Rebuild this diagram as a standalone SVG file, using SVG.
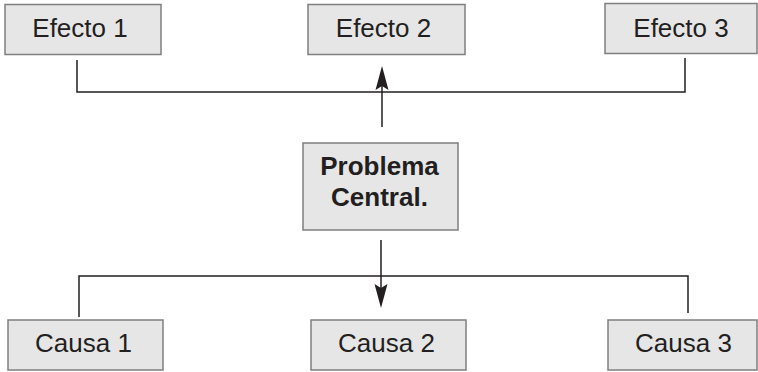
<svg xmlns="http://www.w3.org/2000/svg" width="758" height="372" viewBox="0 0 758 372">
<style>
.box{fill:#e6e6e7;stroke:#7f7f7f;stroke-width:1.5}
.t{font-family:"Liberation Sans",Arial,sans-serif;font-size:26px;fill:#231f20;text-anchor:middle}
.b{font-weight:bold}
.ln{fill:none;stroke:#231f20;stroke-width:1.5}
.ah{fill:#231f20}
</style>
<rect width="758" height="372" fill="#fff"/>
<g id="connectors">
<polyline class="ln" points="77,60 77,92 685,92 685,58"/>
<line class="ln" x1="382" y1="127" x2="382" y2="80"/>
<path class="ah" d="M382,66 L388.5,90 L382,86 L375.5,90 Z"/>
<polyline class="ln" points="79,317 79,276 688,276 688,313"/>
<line class="ln" x1="381" y1="240" x2="381" y2="294"/>
<path class="ah" d="M381,308 L387.5,284 L381,288 L374.5,284 Z"/>
</g>
<g id="efecto1"><rect class="box" x="5" y="4.5" width="156" height="50"/><text class="t" x="80" y="37">Efecto 1</text></g>
<g id="efecto2"><rect class="box" x="308" y="4.5" width="157" height="50"/><text class="t" x="383.5" y="37">Efecto 2</text></g>
<g id="efecto3"><rect class="box" x="605" y="3.5" width="152" height="50"/><text class="t" x="681" y="37">Efecto 3</text></g>
<g id="problema"><rect class="box" x="303" y="143" width="155" height="87"/><text class="t b" x="379.5" y="175">Problema</text><text class="t b" x="379.5" y="206">Central.</text></g>
<g id="causa1"><rect class="box" x="8" y="320" width="155" height="50"/><text class="t" x="83.5" y="352">Causa 1</text></g>
<g id="causa2"><rect class="box" x="311" y="320" width="155" height="50"/><text class="t" x="386.5" y="352">Causa 2</text></g>
<g id="causa3"><rect class="box" x="608" y="320" width="149" height="50"/><text class="t" x="683.5" y="352">Causa 3</text></g>
</svg>
